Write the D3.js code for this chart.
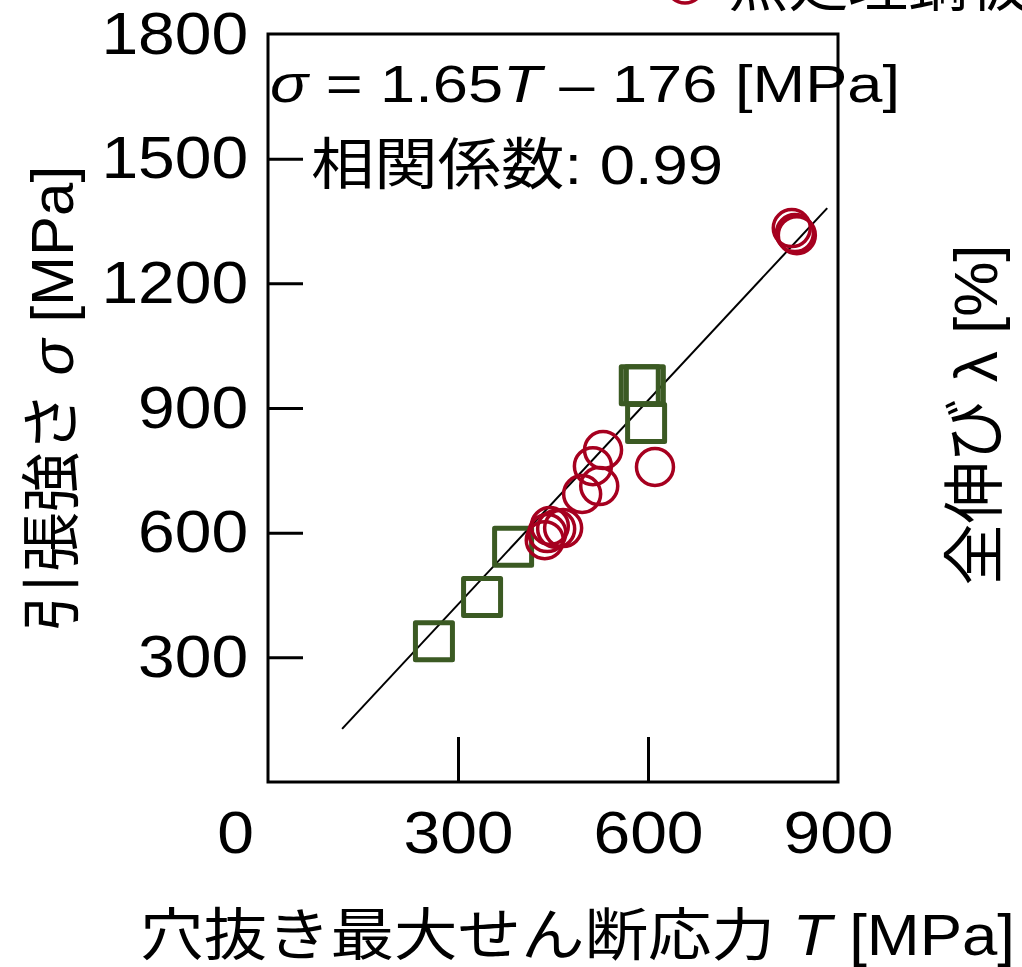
<!DOCTYPE html>
<html>
<head>
<meta charset="utf-8">
<script src="https://cdn.jsdelivr.net/npm/d3@7"></script>
<style>
  body { margin: 0; background: #fff; }
  text { font-family: 'Liberation Sans', Arial, 'Noto Sans CJK JP', sans-serif; fill: #000; }
</style>
</head>
<body>
<div id="graf"></div>
<script>
// Datos
const cuadrosT = [262, 338, 387, 587, 595, 597]
const cuadrosS = [339, 445, 566, 955, 955, 864]
const circulosT = [611, 529, 513, 523, 496, 437, 441, 445, 455, 466, 827, 832, 835]
const circulosS = [758, 799, 760, 712, 693, 582, 599, 616, 609, 611, 1333, 1321, 1316]
const lineaT = [117, 883]
const lineaS = [128, 1381]
const xTicks = [0, 300, 600, 900]
const yTicks = [300, 600, 900, 1200, 1500, 1800]

const rojo = '#a6001f'
const verde = '#3b5a23'
const estira = 1.1

// Configuracion
ancho_total = 1022
alto_total = 967
margins = { top: 34, left: 268, right: 184, bottom: 185 }
ancho = ancho_total - margins.left - margins.right
alto = alto_total - margins.top - margins.bottom

svg = d3.select('#graf').append('svg')
  .attr('width', ancho_total)
  .attr('height', alto_total)

g = svg.append('g')
  .attr('transform', `translate(${margins.left}, ${margins.top})`)

// Escaladores
x = d3.scaleLinear().domain([0, 900]).range([0, ancho])
y = d3.scaleLinear().domain([0, 1800]).range([alto, 0])

// Texto de la ecuacion
eq = svg.append('text')
  .attr('x', 270).attr('y', 102)
  .attr('font-size', 52)
  .attr('textLength', 630)
  .attr('lengthAdjust', 'spacingAndGlyphs')
eq.append('tspan').attr('font-style', 'italic').text('σ')
eq.append('tspan').text(' = 1.65')
eq.append('tspan').attr('font-style', 'italic').text('T')
eq.append('tspan').text(' – 176 [MPa]')

svg.append('text')
  .attr('x', 311).attr('y', 184)
  .attr('font-size', 56)
  .attr('textLength', 412)
  .attr('lengthAdjust', 'spacingAndGlyphs')
  .text('相関係数: 0.99')

// Ejes
xAxis = d3.axisBottom(x)
  .tickValues(xTicks)
  .tickFormat(d3.format('d'))
  .tickSizeInner(-45)
  .tickSizeOuter(0)
  .tickPadding(28)
yAxis = d3.axisLeft(y)
  .tickValues(yTicks)
  .tickFormat(d3.format('d'))
  .tickSizeInner(-35)
  .tickSizeOuter(0)
  .tickPadding(18)

gx = g.append('g')
  .attr('transform', `translate(0,${alto})`)
  .call(xAxis)
gy = g.append('g').call(yAxis)

;[gx, gy].forEach(a => {
  a.select('.domain').remove()
  a.selectAll('line').attr('stroke', '#000').attr('stroke-width', 3)
  a.selectAll('text')
    .attr('font-size', 60)
    .attr('font-family', null)
    .attr('transform', `scale(${estira},1)`)
})
// los extremos del eje x caen sobre el marco
gx.selectAll('.tick').filter(d => d == 0 || d == 900).select('line').remove()
gy.selectAll('.tick').filter(d => d == 1800).select('line').remove()
gx.selectAll('text').filter(d => d == 0).attr('x', -30)

// Marco
g.append('rect')
  .attr('x', 0).attr('y', 0)
  .attr('width', ancho).attr('height', alto)
  .attr('fill', 'none')
  .attr('stroke', '#000')
  .attr('stroke-width', 3)

// Recta de ajuste
linea = d3.line()
  .x(d => x(d[0]))
  .y(d => y(d[1]))
g.append('path')
  .datum(d3.zip(lineaT, lineaS))
  .attr('d', linea)
  .attr('fill', 'none')
  .attr('stroke', '#000')
  .attr('stroke-width', 2)

// Cuadros verdes
lado = 37
g.selectAll('rect.cuadro')
  .data(d3.zip(cuadrosT, cuadrosS))
  .enter()
  .append('rect')
    .attr('class', 'cuadro')
    .attr('x', d => x(d[0]) - lado / 2)
    .attr('y', d => y(d[1]) - lado / 2)
    .attr('width', lado)
    .attr('height', lado)
    .attr('fill', 'none')
    .attr('stroke', verde)
    .attr('stroke-width', 5)
    .attr('stroke-linejoin', 'round')

// Circulos rojos
g.selectAll('circle')
  .data(d3.zip(circulosT, circulosS))
  .enter()
  .append('circle')
    .attr('cx', d => x(d[0]))
    .attr('cy', d => y(d[1]))
    .attr('r', 18.5)
    .attr('fill', 'none')
    .attr('stroke', rojo)
    .attr('stroke-width', 3.5)

// Leyenda (cortada arriba, como en la figura)
svg.append('circle')
  .attr('cx', 685).attr('cy', -15.5)
  .attr('r', 18.5)
  .attr('fill', 'none')
  .attr('stroke', rojo)
  .attr('stroke-width', 3.5)
svg.append('text')
  .attr('x', 728).attr('y', 6)
  .attr('font-size', 60)
  .text('無処理鋼板')

// Titulos de ejes
xt = svg.append('text')
  .attr('x', 140).attr('y', 955)
  .attr('font-size', 57)
  .attr('textLength', 875)
  .attr('lengthAdjust', 'spacingAndGlyphs')
xt.append('tspan').text('穴抜き最大せん断応力 ')
xt.append('tspan').attr('font-style', 'italic').text('T')
xt.append('tspan').text(' [MPa]')

yt = svg.append('text')
  .attr('transform', 'translate(73,399) rotate(-90)')
  .attr('text-anchor', 'middle')
  .attr('font-size', 60)
yt.append('tspan').text('引張強さ ')
yt.append('tspan').attr('font-style', 'italic').text('σ')
yt.append('tspan').text(' [MPa]')

svg.append('text')
  .attr('transform', 'translate(997,415) rotate(-90)')
  .attr('text-anchor', 'middle')
  .attr('font-size', 62)
  .text('全伸び λ [%]')
</script>
</body>
</html>
